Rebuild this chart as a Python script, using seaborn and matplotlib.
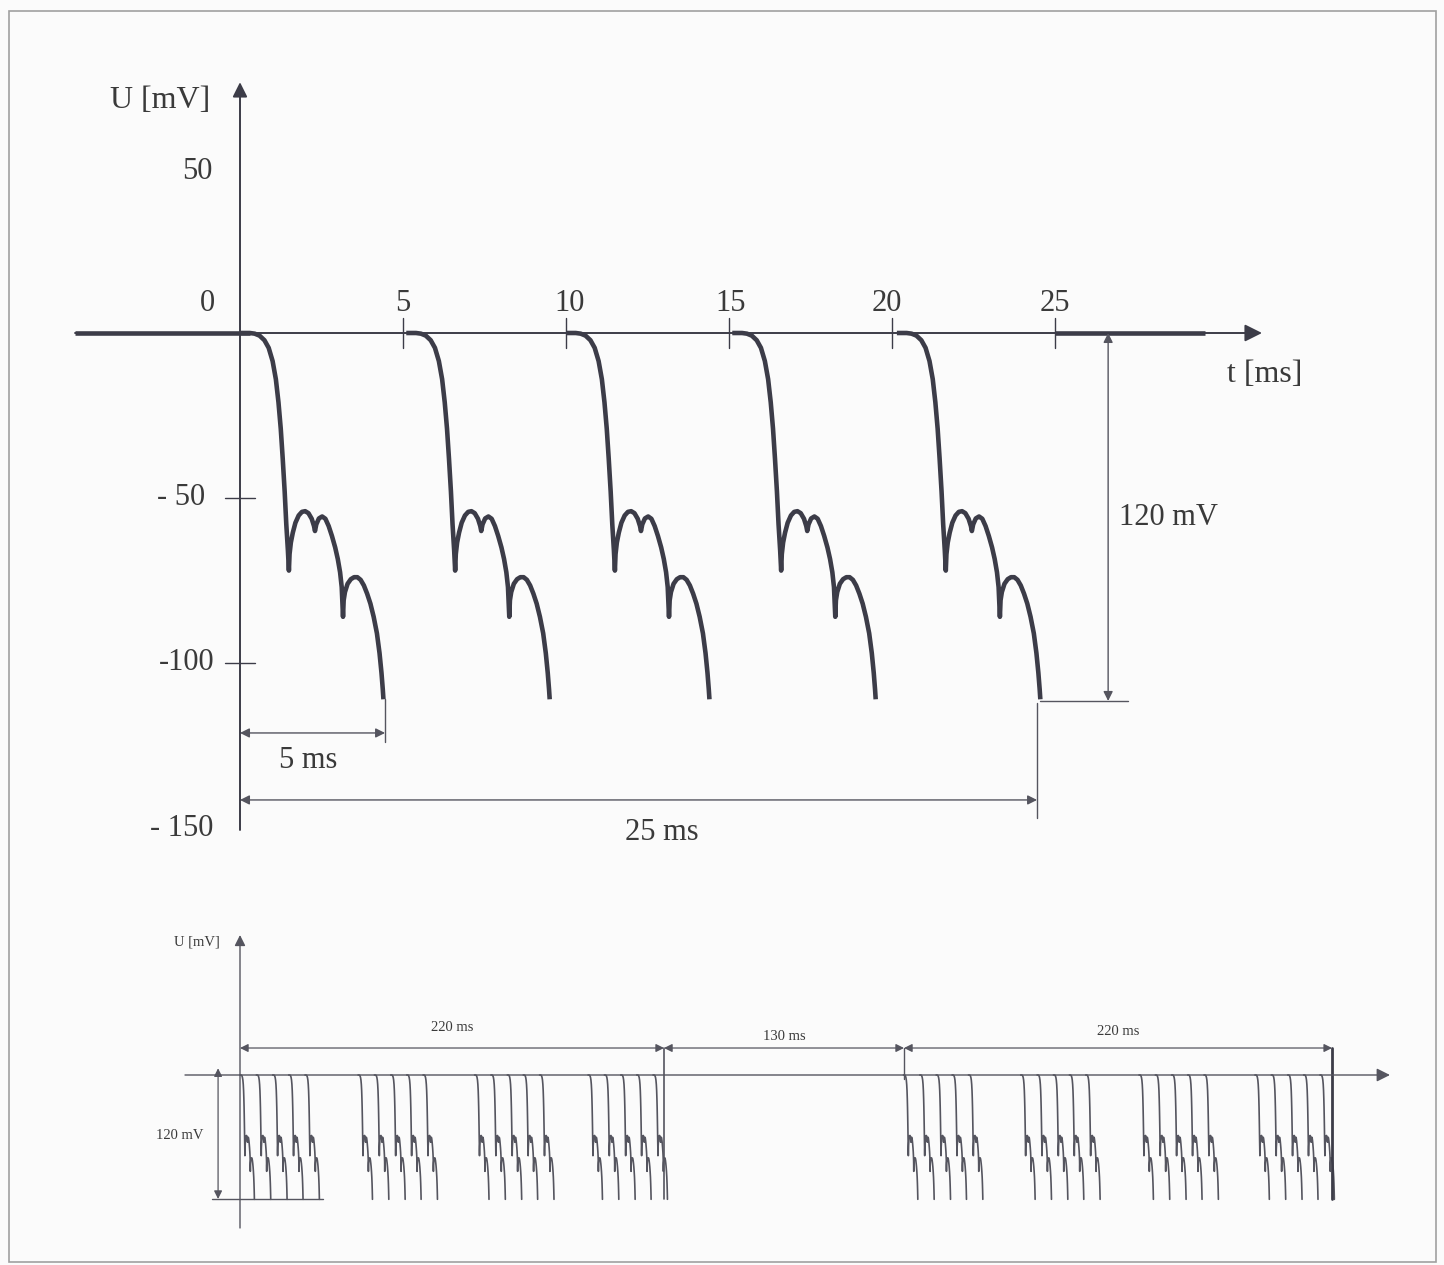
import numpy as np
import pandas as pd
import matplotlib
matplotlib.use("Agg")
import matplotlib.pyplot as plt
from matplotlib.patches import Rectangle
import seaborn as sns

# ---------------- data ----------------
# single pulse shape (time from onset in ms, voltage in mV)
SHAPE_T = [0.0, 0.3, 0.45, 0.6, 0.75, 0.88, 1.0, 1.1, 1.18, 1.25, 1.31,
           1.37, 1.42, 1.47, 1.5,
           1.52, 1.56, 1.62, 1.7, 1.8, 1.9, 2.0, 2.1, 2.2, 2.27, 2.3,
           2.34, 2.42, 2.52, 2.62, 2.72, 2.82, 2.92, 3.0, 3.07, 3.12, 3.16,
           3.18, 3.22, 3.3, 3.4, 3.5, 3.6, 3.7, 3.8, 3.9, 4.0, 4.1, 4.2,
           4.28, 4.34, 4.38, 4.4]
SHAPE_U = [0, 0, -0.2, -0.8, -2.2, -4.5, -8.5, -14, -21, -29, -38,
           -48, -58, -66, -72,
           -67, -63.5, -60.5, -57.5, -55.3, -54.2, -54, -54.6, -56.3, -58.5, -60,
           -58, -56.2, -55.6, -56.3, -58.5, -61.5, -65, -68.5, -72.5, -77, -86,
           -81, -78.5, -76, -74.6, -74, -74, -74.8, -76.5, -79, -82, -86, -91,
           -97, -103, -108, -111]

# onset of each pulse in the upper chart (ms)
PULSE_ONSETS = [0.0, 5.1, 10.0, 15.1, 20.15]
X_TICKS = [5, 10, 15, 20, 25]
Y_TICKS = [50, 0, -50, -100, -150]
Y_TICK_LABELS = ["50", "0", "- 50", "-100", "- 150"]

# lower (schematic) chart: burst start times and pulse offsets inside a burst
BURST_STARTS = [0.0, 61.4, 122.0, 181.0, 345.0, 406.0, 467.5, 527.8]
BURST_OFFSETS = [0.0, 8.5, 17.0, 25.3, 33.8]
SPANS = [(0.0, 220.5, "220 ms"), (220.5, 345.3, "130 ms"), (345.3, 567.9, "220 ms")]

# ---------------- style ----------------
sns.set_theme(style="white")
plt.rcParams["font.family"] = ["Liberation Serif", "DejaVu Serif"]
INK = "#3c3c48"
THIN = "#55555f"
TXT = "#3a3a3a"

W, H = 1444, 1265
fig = plt.figure(figsize=(W / 100, H / 100), dpi=100)
fig.patch.set_facecolor("#fbfbfb")

# ---------------- upper chart ----------------
# pixel mapping: t=0 at x=240, 32.6 px/ms ; U=0 at y=333, 3.3 px/mV
ax = fig.add_axes([0, 0, 1, 1])
ax.set_xlim((0 - 240) / 32.6, (W - 240) / 32.6)
ax.set_ylim((333 - H) / 3.3, 333 / 3.3)
ax.axis("off")
ax.patch.set_alpha(0)

rows = []
for k, t0 in enumerate(PULSE_ONSETS):
    for t, u in zip(SHAPE_T, SHAPE_U):
        rows.append({"t": t0 + t, "U": u, "pulse": k})
df = pd.DataFrame(rows)
sns.lineplot(data=df, x="t", y="U", units="pulse", estimator=None, sort=False,
             color=INK, lw=3.3, ax=ax, legend=False,
             solid_joinstyle="round", solid_capstyle="butt")

# thick resting level before and after the train
ax.plot([-5.06, 0.3], [0, 0], color=INK, lw=3.3, solid_capstyle="butt")
ax.plot([25.0, 29.6], [0, 0], color=INK, lw=3.3, solid_capstyle="butt")

# axes with arrows
ax.annotate("", xy=(31.35, 0), xytext=(-5.06, 0),
            arrowprops=dict(arrowstyle="-|>", color=INK, lw=1.4,
                            mutation_scale=26, shrinkA=0, shrinkB=0))
ax.annotate("", xy=(0, 76), xytext=(0, -150.6),
            arrowprops=dict(arrowstyle="-|>", color=INK, lw=1.4,
                            mutation_scale=22, shrinkA=0, shrinkB=0))

# ticks
for xt in X_TICKS:
    ax.plot([xt, xt], [4.5, -4.5], color=INK, lw=1.0)
for yt in Y_TICKS[2:4]:
    ax.plot([-0.46, 0.46], [yt, yt], color=INK, lw=1.0)

tick_dx = {5: 0.0, 10: 0.1, 15: 0.05, 20: -0.15, 25: 0.0}
for xt in X_TICKS:
    ax.text(xt + tick_dx[xt], 9.0, str(xt), ha="center", va="center",
            fontsize=22, color=TXT)
y_label_pos = {50: 48.8, 0: 9.0, -50: -49.7, -100: -100.0, -150: -150.0}
y_label_right = {50: -0.83, 0: -0.77, -50: -1.07, -100: -0.77, -150: -0.83}
for yt, lab in zip(Y_TICKS, Y_TICK_LABELS):
    ax.text(y_label_right[yt], y_label_pos[yt], lab, ha="right", va="center",
            fontsize=22, color=TXT)

ax.text(-2.45, 70.6, "U [mV]", ha="center", va="center", fontsize=23, color=TXT)
ax.text(31.44, -12.7, "t [ms]", ha="center", va="center", fontsize=23, color=TXT)

dim_arrow = dict(arrowstyle="<|-|>", color=THIN, lw=1.0, mutation_scale=14,
                 shrinkA=0, shrinkB=0)
# 120 mV
ax.annotate("", xy=(26.63, 0), xytext=(26.63, -111.5), arrowprops=dim_arrow)
ax.plot([24.54, 27.24], [-111.5, -111.5], color=THIN, lw=1.0)
ax.text(28.47, -56, "120 mV", ha="center", va="center", fontsize=22, color=TXT)
# 5 ms
ax.annotate("", xy=(0, -121.2), xytext=(4.45, -121.2), arrowprops=dim_arrow)
ax.plot([4.45, 4.45], [-111, -124], color=THIN, lw=1.0)
ax.text(2.09, -129.4, "5 ms", ha="center", va="center", fontsize=22, color=TXT)
# 25 ms
ax.annotate("", xy=(0, -141.5), xytext=(24.45, -141.5), arrowprops=dim_arrow)
ax.plot([24.45, 24.45], [-112, -147], color=THIN, lw=1.0)
ax.text(12.94, -151.5, "25 ms", ha="center", va="center", fontsize=22, color=TXT)

# ---------------- lower chart ----------------
# pixel mapping: 0 ms at x=240, 1.923 px/ms ; U=0 at y=1075, 1.12 px/mV
bx = fig.add_axes([0, 0, 1, 1])
bx.set_xlim((0 - 240) / 1.923, (W - 240) / 1.923)
bx.set_ylim((1075 - H) / 1.12, 1075 / 1.12)
bx.axis("off")
bx.patch.set_alpha(0)

PULSE_DRAW_SCALE = 1.7  # schematic horizontal compression of the pulse sketch
rows = []
n = 0
for b in BURST_STARTS:
    for o in BURST_OFFSETS:
        for t, u in zip(SHAPE_T, SHAPE_U):
            rows.append({"t": b + o + t * PULSE_DRAW_SCALE, "U": u, "pulse": n})
        n += 1
dfb = pd.DataFrame(rows)
sns.lineplot(data=dfb, x="t", y="U", units="pulse", estimator=None, sort=False,
             color=THIN, lw=1.2, ax=bx, legend=False, solid_joinstyle="round")

bx.annotate("", xy=(598, 0), xytext=(-28.6, 0),
            arrowprops=dict(arrowstyle="-|>", color=THIN, lw=1.0,
                            mutation_scale=20, shrinkA=0, shrinkB=0))
bx.annotate("", xy=(0, 125), xytext=(0, -136.6),
            arrowprops=dict(arrowstyle="-|>", color=THIN, lw=1.0,
                            mutation_scale=16, shrinkA=0, shrinkB=0))

small_arrow = dict(arrowstyle="<|-|>", color=THIN, lw=0.9, mutation_scale=12,
                   shrinkA=0, shrinkB=0)
label_y = [42.0, 34.8, 38.4]
for (x0, x1, lab), ly in zip(SPANS, label_y):
    bx.annotate("", xy=(x0, 24.1), xytext=(x1, 24.1), arrowprops=small_arrow)
    bx.text((x0 + x1) / 2, ly, lab, ha="center", va="center", fontsize=10.5,
            color=TXT)
bx.plot([220.5, 220.5], [24.1, -111], color=THIN, lw=1.2)
bx.plot([345.3, 345.3], [24.1, -4], color=THIN, lw=1.0)
bx.plot([567.9, 567.9], [24.1, -111], color=INK, lw=2.0)

bx.annotate("", xy=(-11.4, 6.0), xytext=(-11.4, -110.7), arrowprops=small_arrow)
bx.plot([-14.6, 43.2], [-110.7, -110.7], color=THIN, lw=1.0)
bx.text(-31.2, -53.6, "120 mV", ha="center", va="center", fontsize=10.5, color=TXT)
bx.text(-22.4, 118.75, "U [mV]", ha="center", va="center", fontsize=10.5, color=TXT)

# page frame of the scan
fig.patches.append(Rectangle((9 / W, 3 / H), (1436 - 9) / W, (1254 - 3) / H,
                             transform=fig.transFigure, fill=False,
                             edgecolor="#a0a0a0", lw=1.2))

fig.savefig("out.png", dpi=100, facecolor=fig.get_facecolor())
